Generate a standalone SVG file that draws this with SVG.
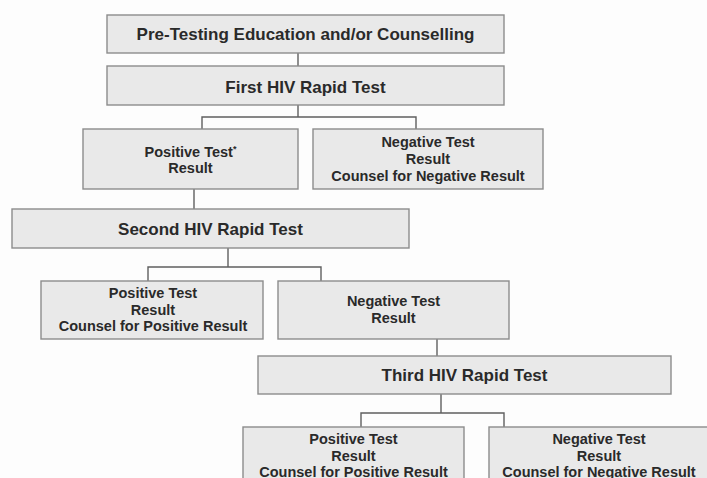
<svg xmlns="http://www.w3.org/2000/svg" width="707" height="478" viewBox="0 0 707 478">
<style>
.box{fill:#e9e9e9;stroke:#8c8c8c;stroke-width:1.4}
.big{font-family:"Liberation Sans",Arial,sans-serif;font-weight:bold;font-size:17px;fill:#2a2a2a;text-anchor:middle}
.sm{font-family:"Liberation Sans",Arial,sans-serif;font-weight:bold;font-size:14.5px;fill:#2a2a2a;text-anchor:middle}
.conn{fill:none;stroke:#5f5f5f;stroke-width:1.4}
</style>
<rect width="707" height="478" fill="#fdfdfd"/>
<g id="connectors" class="conn">
<path d="M298 53V66"/>
<path d="M298 105V117M202 129V117H416V129"/>
<path d="M194 189V209"/>
<path d="M228 248V267M148 281V267H321V281"/>
<path d="M437 339V356"/>
<path d="M441 394V413M361 427V413H504V427"/>
</g>
<g id="pretest"><rect class="box" x="107" y="15" width="397" height="38"/><text class="big" x="305.5" y="40">Pre-Testing Education and/or Counselling</text></g>
<g id="first"><rect class="box" x="107" y="66" width="397" height="39"/><text class="big" x="305.5" y="92.5">First HIV Rapid Test</text></g>
<g id="pos1"><rect class="box" x="83" y="129" width="215" height="60"/><text class="sm" x="190.5" y="157">Positive Test<tspan font-size="9" dy="-5">*</tspan></text><text class="sm" x="190.5" y="173">Result</text></g>
<g id="neg1"><rect class="box" x="313" y="129" width="230" height="60"/><text class="sm" x="428" y="147">Negative Test</text><text class="sm" x="428" y="164">Result</text><text class="sm" x="428" y="181">Counsel for Negative Result</text></g>
<g id="second"><rect class="box" x="12" y="209" width="397" height="39"/><text class="big" x="210.5" y="235">Second HIV Rapid Test</text></g>
<g id="pos2"><rect class="box" x="41" y="281" width="222" height="58"/><text class="sm" x="153" y="298">Positive Test</text><text class="sm" x="153" y="314.5">Result</text><text class="sm" x="153" y="331">Counsel for Positive Result</text></g>
<g id="neg2"><rect class="box" x="278" y="281" width="231" height="58"/><text class="sm" x="393.5" y="306">Negative Test</text><text class="sm" x="393.5" y="323">Result</text></g>
<g id="third"><rect class="box" x="258" y="356" width="413" height="38"/><text class="big" x="464.5" y="381">Third HIV Rapid Test</text></g>
<g id="pos3"><rect class="box" x="243" y="427" width="221" height="62"/><text class="sm" x="353.5" y="443.5">Positive Test</text><text class="sm" x="353.5" y="460.5">Result</text><text class="sm" x="353.5" y="477">Counsel for Positive Result</text></g>
<g id="neg3"><rect class="box" x="489" y="427" width="220" height="62"/><text class="sm" x="599" y="443.5">Negative Test</text><text class="sm" x="599" y="460.5">Result</text><text class="sm" x="599" y="477">Counsel for Negative Result</text></g>
</svg>
